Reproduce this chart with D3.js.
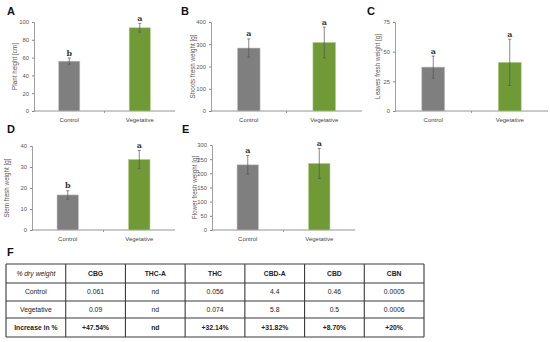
<!DOCTYPE html>
<html>
<head>
<meta charset="utf-8">
<script src="https://cdn.jsdelivr.net/npm/d3@7"></script>
<style>
  body { margin: 0; background: #fff; }
  svg { display: block; font-family: "Liberation Sans", Arial, sans-serif; }
  .tick text { fill: #555; font-size: 5.8px; }
  .ylab { fill: #555; font-size: 6.3px; }
  .cat { fill: #444; font-size: 6px; }
  .plabel { font-weight: bold; font-size: 11px; fill: #111; }
  .sig { font-family: "DejaVu Serif", serif; font-weight: bold; font-size: 8px; fill: #3a3a3a; }
</style>
</head>
<body>
<script>
// data
var categories = ["Control", "Vegetative"];
var panelIds = ["A", "B", "C", "D", "E"];
var yTitles = ["Plant height [cm]", "Shoots fresh weight [g]", "Leaves fresh weight [g]",
               "Stem fresh weight  [g]", "Flower fresh weight [g]"];
var means = [[56, 93.5], [283, 308], [37, 41], [16.7, 33.6], [230, 235]];
var errs = [[3.5, 5], [41, 69], [9.3, 19.5], [2, 4.3], [33, 53]];
var letters = [["b", "a"], ["a", "a"], ["a", "a"], ["b", "a"], ["a", "a"]];
var yMax = [100, 400, 75, 40, 300];
var yStep = [20, 100, 25, 10, 50];

var tableHeader = ["% dry weight", "CBG", "THC-A", "THC", "CBD-A", "CBD", "CBN"];
var tableRows = [
  ["Control", "0.061", "nd", "0.056", "4.4", "0.46", "0.0005"],
  ["Vegetative", "0.09", "nd", "0.074", "5.8", "0.5", "0.0006"],
  ["Increase in %", "+47.54%", "nd", "+32.14%", "+31.82%", "+8.70%", "+20%"]
];

var colors = ["#7f7f7f", "#6f9a36"];

// layout of each small panel (axis left x, axis right x, top y, bottom y)
var boxes = [
  {x0: 34, x1: 175, y0: 22, y1: 111, lx: 7, ly: 15, tx: 15},
  {x0: 211, x1: 362, y0: 22, y1: 111, lx: 181, ly: 15, tx: 193},
  {x0: 395, x1: 548, y0: 22, y1: 111, lx: 367, ly: 15, tx: 378},
  {x0: 32, x1: 175, y0: 146, y1: 230, lx: 7, ly: 133, tx: 7},
  {x0: 212, x1: 355, y0: 145, y1: 230, lx: 182, ly: 133, tx: 195}
];

var svg = d3.select("body").append("svg")
    .attr("width", 550)
    .attr("height", 342);

panelIds.forEach(function(id, i) {
  var b = boxes[i];
  var x = d3.scaleBand().domain(categories).range([b.x0, b.x1])
      .paddingInner(0.7).paddingOuter(0.35);
  var y = d3.scaleLinear().domain([0, yMax[i]]).range([b.y1, b.y0]);
  var g = svg.append("g");

  g.append("text").attr("class", "plabel")
      .attr("x", b.lx).attr("y", b.ly).text(id);

  g.append("g")
      .attr("transform", "translate(" + b.x0 + ",0)")
      .call(d3.axisLeft(y).tickValues(d3.range(0, yMax[i] + 0.01, yStep[i])).tickSize(2).tickPadding(3))
      .call(function(a) {
        a.select(".domain").attr("stroke", "#888").attr("stroke-width", 0.8);
        a.selectAll(".tick line").attr("stroke", "#888");
      });

  // x axis line with centre tick
  g.append("line").attr("x1", b.x0).attr("x2", b.x1)
      .attr("y1", b.y1).attr("y2", b.y1)
      .attr("stroke", "#888").attr("stroke-width", 0.9);
  g.append("line").attr("x1", (b.x0 + b.x1) / 2).attr("x2", (b.x0 + b.x1) / 2)
      .attr("y1", b.y1).attr("y2", b.y1 + 2)
      .attr("stroke", "#888").attr("stroke-width", 0.8);

  g.selectAll(".cat").data(categories).enter().append("text")
      .attr("class", "cat")
      .attr("x", function(d) { return x(d) + x.bandwidth() / 2; })
      .attr("y", b.y1 + 11)
      .attr("text-anchor", "middle")
      .text(function(d) { return d; });

  g.append("text").attr("class", "ylab")
      .attr("transform", "translate(" + b.tx + "," + ((b.y0 + b.y1) / 2) + ") rotate(-90)")
      .attr("text-anchor", "middle")
      .attr("dy", "0.35em")
      .text(yTitles[i]);

  var d = categories.map(function(c, j) {
    return {cat: c, v: means[i][j], e: errs[i][j], l: letters[i][j], j: j};
  });

  g.selectAll(".bar").data(d).enter().append("rect")
      .attr("x", function(d) { return x(d.cat); })
      .attr("y", function(d) { return y(d.v); })
      .attr("width", x.bandwidth())
      .attr("height", function(d) { return y(0) - y(d.v); })
      .attr("fill", function(d) { return colors[d.j]; })
      .attr("stroke", function(d) { return d.j ? "#b5cf94" : "#c4c4c4"; })
      .attr("stroke-width", 0.6);

  var cx = function(d) { return x(d.cat) + x.bandwidth() / 2; };
  g.selectAll(".err").data(d).enter().append("line")
      .attr("x1", cx).attr("x2", cx)
      .attr("y1", function(d) { return y(d.v - d.e); })
      .attr("y2", function(d) { return y(d.v + d.e); })
      .attr("stroke", "#555").attr("stroke-width", 0.7);
  [-1, 1].forEach(function(s) {
    g.selectAll(".cap" + s).data(d).enter().append("line")
        .attr("x1", function(d) { return cx(d) - 1.5; })
        .attr("x2", function(d) { return cx(d) + 1.5; })
        .attr("y1", function(d) { return y(d.v + s * d.e); })
        .attr("y2", function(d) { return y(d.v + s * d.e); })
        .attr("stroke", "#555").attr("stroke-width", 0.7);
  });

  g.selectAll(".sig").data(d).enter().append("text")
      .attr("class", "sig")
      .attr("x", cx)
      .attr("y", function(d) { return y(d.v + d.e) - 2.5; })
      .attr("text-anchor", "middle")
      .text(function(d) { return d.l; });
});

// table F
svg.append("text").attr("class", "plabel").attr("x", 7).attr("y", 256).text("F");

var tx = d3.scaleBand().domain(d3.range(tableHeader.length)).range([6, 424]);
var rowEdges = [264, 283, 301, 318, 337];
var allRows = [tableHeader].concat(tableRows);

var tg = svg.append("g");
allRows.forEach(function(row, r) {
  tg.selectAll(".c" + r).data(row).enter().append("text")
      .attr("x", function(d, k) { return tx(k) + tx.bandwidth() / 2; })
      .attr("y", (rowEdges[r] + rowEdges[r + 1]) / 2)
      .attr("dy", "0.35em")
      .attr("text-anchor", "middle")
      .style("font-size", "6.8px")
      .style("fill", "#222")
      .style("font-weight", function(d, k) { return (r === 0 && k > 0) || r === 3 ? "bold" : "normal"; })
      .style("font-style", function(d, k) { return r === 0 && k === 0 ? "italic" : "normal"; })
      .text(function(d) { return d; });
});

tg.selectAll(".hl").data(rowEdges).enter().append("line")
    .attr("x1", 6).attr("x2", 424)
    .attr("y1", function(d) { return d; }).attr("y2", function(d) { return d; })
    .attr("stroke", "#3a3a3a").attr("stroke-width", 1.1);
tg.selectAll(".vl").data(d3.range(tableHeader.length + 1)).enter().append("line")
    .attr("x1", function(k) { return k < tableHeader.length ? tx(k) : 424; })
    .attr("x2", function(k) { return k < tableHeader.length ? tx(k) : 424; })
    .attr("y1", rowEdges[0]).attr("y2", rowEdges[rowEdges.length - 1])
    .attr("stroke", "#3a3a3a").attr("stroke-width", 1.1);
</script>
</body>
</html>
